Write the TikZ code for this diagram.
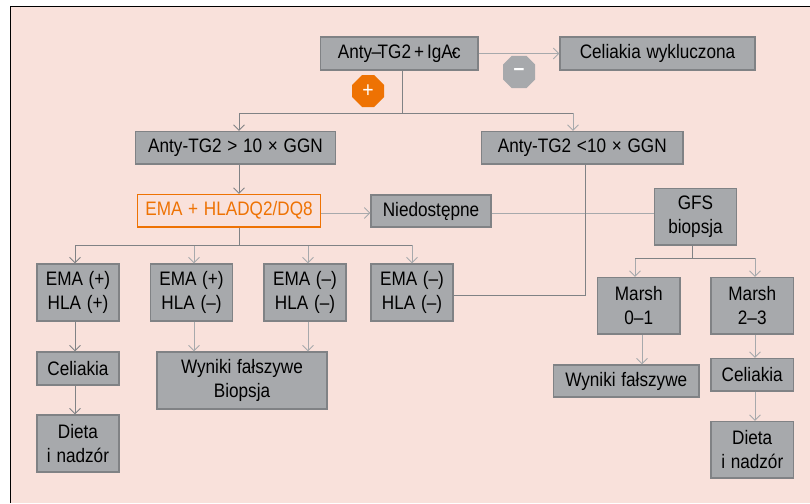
\documentclass[tikz,border=0pt]{standalone}
\usepackage{fontspec}
\setmainfont[FakeStretch=0.88,WordSpace=1.2]{Liberation Sans}
\usetikzlibrary{arrows.meta,shapes.misc}
\definecolor{bgp}{HTML}{F9E1DB}
\definecolor{boxf}{HTML}{A7A9AC}
\definecolor{boxd}{HTML}{808285}
\definecolor{org}{HTML}{EE7203}
\tikzset{
 x=1pt,y=-1pt,
 box/.style={draw=boxd,fill=boxf,line width=1.1pt,align=center,inner sep=0pt,font=\fontsize{19.5}{24}\selectfont,text=black},
 obox/.style={box,draw=org,fill=bgp,text=org},
 dk/.style={draw=boxd,line width=.9pt},
 lt/.style={draw=boxf,line width=.9pt},
 tip/.style={-{Straight Barb[length=5.5pt,width=11pt,line width=.9pt]}},
 badge/.style={chamfered rectangle,chamfered rectangle xsep=5pt,chamfered rectangle ysep=5pt,minimum width=32pt,minimum height=32pt,inner sep=0pt,text=white,font=\fontsize{22}{22}\selectfont},
}
\newcommand{\bx}[7][box]{%
 \pgfmathsetmacro{\wv}{#4-#3}\pgfmathsetmacro{\hv}{#6-#5}%
 \pgfmathsetmacro{\cxv}{(#3+#4)/2}\pgfmathsetmacro{\cyv}{(#5+#6)/2}%
 \node[#1,minimum width=\wv pt,minimum height=\hv pt] (#2) at (\cxv,\cyv) {#7};}
\begin{document}
\begin{tikzpicture}
\useasboundingbox (0,0) rectangle (810,503);
\fill[white] (0,0) rectangle (810,503);
\fill[bgp] (10.5,6.5) rectangle (810,503);
\draw[black,line width=1.2pt] (10.5,503) -- (10.5,6.5) -- (810,6.5);
% boxes
\bx{top}{320.5}{478}{37}{70}{Anty\kern-.5pt–\kern-3.5pt TG2\kern3pt+\kern3pt IgA\kern-1.5pt-\kern-5pt c}
\bx{wyk}{560}{755}{37}{70}{Celiakia wykluczona}
\bx{gt}{135.5}{335.5}{131.5}{164}{Anty-TG2 > 10 × GGN}
\bx{lt}{481.5}{683}{131.5}{164}{Anty-TG2 <10 × GGN}
\bx[obox]{ema}{137.5}{320.5}{194.5}{227}{EMA + HLADQ2/DQ8}
\bx{nie}{371}{491}{195}{227}{Niedostępne}
\bx{gfs}{654.5}{736.5}{188.5}{245}{GFS\\biopsja}
\bx{ea}{37}{119}{264}{321}{EMA (+)\\HLA (+)}
\bx{eb}{150.5}{232.5}{264}{321}{EMA (+)\\HLA (–)}
\bx{ec}{264}{346}{264}{321}{EMA (–)\\HLA (–)}
\bx{ed}{371}{453}{264}{321}{EMA (–)\\HLA (–)}
\bx{ma}{597.5}{680}{277.5}{334}{Marsh\\0–1}
\bx{mb}{711}{793.5}{277.5}{334}{Marsh\\2–3}
\bx{cela}{37}{119}{352}{385}{Celiakia}
\bx{wa}{157}{327}{352}{409}{Wyniki fałszywe\\Biopsja}
\bx{da}{37}{119}{415}{472}{Dieta\\i nadzór}
\bx{wb}{553.5}{699}{365}{397}{Wyniki fałszywe}
\bx{celb}{711}{793.5}{358.5}{391}{Celiakia}
\bx{db}{711}{793.5}{421.5}{478}{Dieta\\i nadzór}
% badges
\node[badge,fill=org] (plus) at (368,91) {+};
\node[badge,fill=boxf] (minus) at (519,72) {\textbf{–}};
% junction coordinates
\coordinate (j1) at (402,113);
\coordinate (j2) at (239,245);
\coordinate (j3) at (692,258);
\coordinate (mid) at (0,213);
% light connectors
\draw[lt,tip] (top.east) -- (wyk.west);
\draw[lt,tip] (ema.east |- mid) -- (nie.west |- mid);
\draw[lt] (nie.east |- mid) -- (gfs.west |- mid);
\draw[lt,tip] (573,113) -- (lt.north -| 573,0);
\draw[lt,tip] (j2 -| 194,0) -- (eb.north -| 194,0);
\draw[lt,tip] (j2 -| 308,0) -- (ec.north -| 308,0);
\draw[lt,tip] (412,245) -- (ed.north -| 412,0);
\draw[lt,tip] (j3 -| 635,0) -- (ma.north -| 635,0);
\draw[lt,tip] (j3 -| 755,0) -- (mb.north -| 755,0);
\draw[lt,tip] (eb.south -| 194,0) -- (wa.north -| 194,0);
\draw[lt,tip] (ec.south -| 308,0) -- (wa.north -| 308,0);
\draw[lt,tip] (ma.south -| 642,0) -- (wb.north -| 642,0);
\draw[lt,tip] (mb.south -| 755,0) -- (celb.north -| 755,0);
\draw[lt,tip] (celb.south -| 755,0) -- (db.north -| 755,0);
% dark connectors
\draw[dk] (top.south -| j1) -- (j1);
\draw[dk,tip] (j1) -| (gt.north -| 239,0);
\draw[dk] (j1) -- (573,113);
\draw[dk,tip] (gt.south -| 239,0) -- (ema.north -| 239,0);
\draw[dk] (ema.south -| j2) -- (j2);
\draw[dk,tip] (j2) -| (ea.north -| 75,0);
\draw[dk] (j2) -- (412,245);
\draw[dk] (lt.south -| 585,0) -- (585,295) -- (ed.east |- 0,295);
\draw[dk] (gfs.south -| j3) -- (j3);
\draw[dk] (635,258) -- (755,258);
\draw[dk,tip] (ea.south -| 75,0) -- (cela.north -| 75,0);
\draw[dk,tip] (cela.south -| 75,0) -- (da.north -| 75,0);
\end{tikzpicture}
\end{document}
